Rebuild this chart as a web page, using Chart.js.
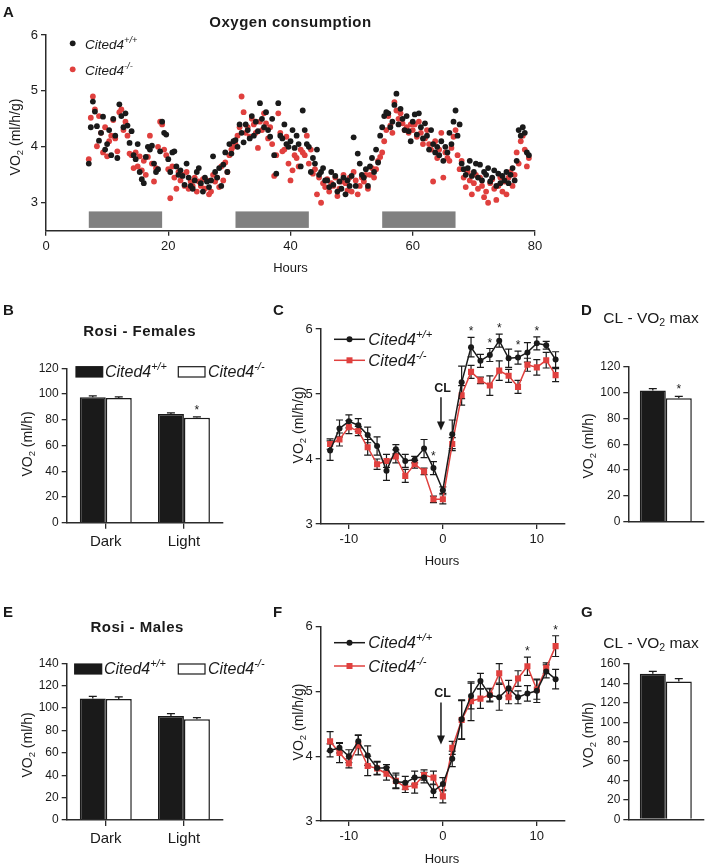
<!DOCTYPE html>
<html>
<head>
<meta charset="utf-8">
<script src="https://cdn.jsdelivr.net/npm/chart.js@4.4.1/dist/chart.umd.min.js"></script>
<style>
  html, body { margin: 0; padding: 0; background: #fff; }
  #wrap { position: relative; width: 709px; height: 868px; overflow: hidden; }
  #wrap canvas { position: absolute; left: 0; top: 0; }
</style>
</head>
<body>
<div id="wrap">
  <canvas id="chart-a" width="709" height="868"></canvas>
  <canvas id="chart-b" width="709" height="868"></canvas>
  <canvas id="chart-c" width="709" height="868"></canvas>
  <canvas id="chart-d" width="709" height="868"></canvas>
  <canvas id="chart-e" width="709" height="868"></canvas>
  <canvas id="chart-f" width="709" height="868"></canvas>
  <canvas id="chart-g" width="709" height="868"></canvas>
</div>
<script>
// ---------------- DATA ----------------

// A - oxygen consumption over time (ml/h/g), three samples per hour
const hoursA = [7,7.33,7.67,8,8.33,8.67,9,9.33,9.67,10,10.33,10.67,11,11.33,11.67,12,12.33,12.67,13,13.33,13.67,14,14.33,14.67,15,15.33,15.67,16,16.33,16.67,17,17.33,17.67,18,18.33,18.67,19,19.33,19.67,20,20.33,20.67,21,21.33,21.67,22,22.33,22.67,23,23.33,23.67,24,24.33,24.67,25,25.33,25.67,26,26.33,26.67,27,27.33,27.67,28,28.33,28.67,29,29.33,29.67,30,30.33,30.67,31,31.33,31.67,32,32.33,32.67,33,33.33,33.67,34,34.33,34.67,35,35.33,35.67,36,36.33,36.67,37,37.33,37.67,38,38.33,38.67,39,39.33,39.67,40,40.33,40.67,41,41.33,41.67,42,42.33,42.67,43,43.33,43.67,44,44.33,44.67,45,45.33,45.67,46,46.33,46.67,47,47.33,47.67,48,48.33,48.67,49,49.33,49.67,50,50.33,50.67,51,51.33,51.67,52,52.33,52.67,53,53.33,53.67,54,54.33,54.67,55,55.33,55.67,56,56.33,56.67,57,57.33,57.67,58,58.33,58.67,59,59.33,59.67,60,60.33,60.67,61,61.33,61.67,62,62.33,62.67,63,63.33,63.67,64,64.33,64.67,65,65.33,65.67,66,66.33,66.67,67,67.33,67.67,68,68.33,68.67,69,69.33,69.67,70,70.33,70.67,71,71.33,71.67,72,72.33,72.67,73,73.33,73.67,74,74.33,74.67,75,75.33,75.67,76,76.33,76.67,77,77.33,77.67,78,78.33,78.67,79]
const wildA = [
  3.70,4.35,4.81, 4.63,4.37,4.11, 4.25,4.54,3.95, 4.05,4.30,3.85, 4.50,4.20,3.80, 4.76,4.55,4.35,
  4.60,4.38,4.07, 4.28,3.85,3.78, 4.05,3.55,3.42, 3.35,3.82,4.00, 3.95,4.02,3.70, 3.55,3.60,3.92,
  4.45,4.25,4.22, 3.78,3.55,3.90, 3.92,3.65,3.50, 3.58,3.48,3.32, 3.70,3.45,3.30, 3.25,3.40,3.55,
  3.62,3.35,3.20, 3.45,3.38,3.28, 3.40,3.83,3.55, 3.45,3.62,3.30, 3.68,3.90,3.55, 4.05,3.88,4.10,
  4.12,4.00,4.40, 4.25,4.08,4.40, 4.30,4.15,4.55, 4.20,4.45,4.28, 4.78,4.50,4.35, 4.62,4.30,4.18,
  4.50,3.85,3.52, 4.78,4.20,4.15, 4.40,4.05,4.00, 4.10,4.30,3.98, 4.20,4.05,3.65, 4.65,4.30,4.05,
  4.00,3.55,3.80, 3.70,3.95,3.50, 3.55,3.62,3.40, 3.40,3.28,3.55, 3.32,3.48,3.20, 3.38,3.25,3.45,
  3.15,3.40,3.30, 3.48,4.17,3.30, 3.88,3.70,3.50, 3.45,3.60,3.30, 3.65,3.80,3.55, 3.95,3.72,4.20,
  4.35,4.55,4.62, 4.60,4.35,4.45, 4.75,4.95,4.40, 4.68,4.50,4.30, 4.55,4.28,4.10, 4.45,4.58,4.22,
  4.60,4.35,4.15, 4.42,4.20,3.95, 4.30,4.05,3.90, 4.00,3.85,4.10, 3.75,4.00,3.90, 4.25,4.05,4.45,
  4.65,4.20,4.40, 3.70,3.60,3.50, 3.62,3.75,3.48, 3.55,3.70,3.45, 3.68,3.40,3.55, 3.50,3.62,3.38,
  3.45,3.58,3.30, 3.52,3.35,3.48, 3.40,3.55,3.35, 3.50,3.62,3.40, 3.75,4.30,4.20, 4.35,4.25,3.90,
  3.85
]
const knockA = [
  3.78,4.52,4.90, 4.67,4.01,4.55, 4.25,3.90,4.35, 3.83,4.10,4.20, 4.48,4.15,3.92, 4.62,4.67,4.30,
  4.45,4.20,3.88, 3.85,3.62,3.90, 3.65,3.83,3.58, 3.75,3.50,3.82, 4.20,3.70,3.38, 3.62,4.00,4.45,
  4.40,3.95,3.85, 3.60,3.08,3.65, 3.45,3.25,3.55, 3.40,3.50,3.30, 3.55,3.25,3.38, 3.30,3.45,3.20,
  3.38,3.30,3.42, 3.25,3.40,3.15, 3.20,3.50,3.38, 3.45,3.28,3.65, 3.40,3.72,3.55, 3.85,3.95,4.00,
  4.05,4.20,4.35, 4.90,4.62,4.25, 4.35,4.18,4.50, 4.40,4.25,3.98, 4.45,4.30,4.60, 4.42,4.15,4.35,
  4.05,3.48,3.85, 4.60,4.25,3.92, 3.95,4.18,3.70, 3.40,3.58,3.85, 3.80,3.65,3.95, 3.90,3.85,4.20,
  3.70,3.95,3.52, 3.60,3.15,3.45, 3.00,3.35,3.28, 3.42,3.20,3.35, 3.30,3.45,3.12, 3.25,3.38,3.50,
  3.35,3.22,3.45, 3.20,3.55,3.40, 3.15,3.30,3.45, 3.38,3.50,3.25, 3.50,3.62,3.45, 3.60,3.75,3.82,
  3.90,4.10,4.30, 4.55,4.38,4.25, 4.80,4.65,4.50, 4.60,4.42,4.30, 4.35,4.25,4.40, 4.30,4.40,4.18,
  4.45,4.25,4.05, 4.15,4.30,4.05, 3.95,3.38,4.10, 3.80,3.95,4.25, 3.45,3.90,3.80, 3.75,3.98,4.18,
  4.30,3.85,3.60, 3.75,3.45,3.28, 3.55,3.40,3.15, 3.35,3.50,3.25, 3.45,3.30,3.10, 3.20,3.00,3.35,
  3.42,3.25,3.05, 3.30,3.45,3.20, 3.38,3.15,3.45, 3.55,3.30,3.50, 3.90,3.70,4.10, 4.20,3.95,3.65,
  3.80
]
const darkStart = [7, 31, 55]
const darkEnd = [19, 43, 67]
const ticksAx = [0, 20, 40, 60, 80]
const ticksAy = [3, 4, 5, 6]

// B - Rosi, females (ml/h)
const phases = ['Dark', 'Light']
const femWild = [97.5, 84.5]
const femWildErr = [1.0, 0.8]
const femKnock = [97.0, 81.5]
const femKnockErr = [0.8, 0.7]
const femStars = [1]            // Light, Cited4-/-
const ticksB = [0, 20, 40, 60, 80, 100, 120]

// C - CL response, females (ml/h/g)
const hoursCL = [-12,-11,-10,-9,-8,-7,-6,-5,-4,-3,-2,-1,0,1,2,3,4,5,6,7,8,9,10,11,12]
const femCLWild = [4.13,4.47,4.58,4.52,4.37,4.20,3.82,4.15,3.97,3.99,4.16,3.86,3.52,4.38,5.18,5.72,5.51,5.60,5.82,5.55,5.56,5.64,5.78,5.75,5.53]
const femCLWildErr = [0.15,0.13,0.10,0.10,0.12,0.14,0.15,0.07,0.10,0.05,0.14,0.10,0.05,0.22,0.25,0.15,0.10,0.10,0.10,0.14,0.10,0.15,0.10,0.06,0.12]
const femCLKnock = [4.23,4.30,4.49,4.43,4.18,3.92,3.97,4.04,3.74,3.92,3.81,3.38,3.38,4.23,4.98,5.34,5.21,5.13,5.36,5.28,5.11,5.45,5.41,5.52,5.29]
const femCLKnockErr = [0.08,0.10,0.10,0.07,0.12,0.08,0.10,0.10,0.10,0.06,0.05,0.05,0.07,0.10,0.15,0.10,0.05,0.15,0.15,0.10,0.10,0.10,0.12,0.12,0.10]
const femCLStars = [-1, 3, 5, 6, 8, 10]
const ticksCLx = [-10, 0, 10]
const ticksCLy = [3, 4, 5, 6]

// D - CL VO2 max, females (ml/h)
const femMaxWild = [101.5]
const femMaxWildErr = [1.5]
const femMaxKnock = [95.5]
const femMaxKnockErr = [1.5]
const ticksD = [0, 20, 40, 60, 80, 100, 120]

// E - Rosi, males (ml/h)
const maleWild = [108.5, 93.0]
const maleWildErr = [2.0, 2.0]
const maleKnock = [108.0, 90.0]
const maleKnockErr = [2.0, 1.5]
const ticksE = [0, 20, 40, 60, 80, 100, 120, 140]

// F - CL response, males (ml/h/g)
const maleCLWild = [4.09,4.13,4.00,4.23,4.01,3.82,3.82,3.61,3.59,3.67,3.67,3.46,3.57,3.96,4.57,4.93,5.16,4.94,4.91,5.05,4.91,4.97,5.01,5.31,5.19]
const maleCLWildErr = [0.10,0.08,0.10,0.10,0.15,0.10,0.05,0.10,0.10,0.10,0.08,0.10,0.10,0.12,0.30,0.20,0.12,0.10,0.20,0.12,0.10,0.12,0.18,0.10,0.15]
const maleCLKnock = [4.23,4.05,3.89,4.17,3.85,3.81,3.73,3.62,3.52,3.55,3.71,3.67,3.38,4.13,4.56,4.85,4.89,4.95,5.28,4.91,5.20,5.39,5.03,5.36,5.70]
const maleCLKnockErr = [0.15,0.15,0.07,0.15,0.15,0.10,0.10,0.12,0.08,0.12,0.08,0.10,0.10,0.10,0.30,0.30,0.15,0.10,0.15,0.10,0.12,0.14,0.15,0.08,0.16]
const maleCLStars = [9, 12]

// G - CL VO2 max, males (ml/h)
const maleMaxWild = [150]
const maleMaxWildErr = [2.5]
const maleMaxKnock = [142]
const maleMaxKnockErr = [3]
const ticksG = [0, 20, 40, 60, 80, 100, 120, 140, 160]

// where the CL injection arrow sits (hours)
const clHour = -0.2

// ---------------- STYLE ----------------
const INK = '#1a1a1a'
const AXIS = '#2b2b2b'
const RED = '#e0403e'
const GRAY = '#808080'
const FONT = '"Liberation Sans", Arial, Helvetica, sans-serif'

const WILD = [['Cited4', 0], ['+/+', 1]]
const KNOCK = [['Cited4', 0], ['-/-', 1]]
const VO2_G = [['VO', 0], ['2', -1], [' (ml/h/g)', 0]]
const VO2_H = [['VO', 0], ['2', -1], [' (ml/h)', 0]]

Chart.defaults.font.family = FONT
Chart.defaults.color = INK
Chart.defaults.animation = false
Chart.defaults.responsive = false
Chart.defaults.devicePixelRatio = 1
Chart.defaults.events = []
Chart.defaults.plugins.legend.display = false
Chart.defaults.plugins.tooltip.enabled = false

// ---------------- HELPERS ----------------

// every canvas covers the whole page, so the plot box is placed by padding
function placeArea(area, yw, xh) {
  return {
    autoPadding: false,
    padding: { left: area[0] - yw, top: area[1], right: 709 - area[2], bottom: 868 - area[3] - xh }
  }
}

function fixWidth(w) {
  return s => { s.width = w; s.paddingTop = 0; s.paddingBottom = 0; s.paddingLeft = 0; s.paddingRight = 0 }
}

function fixHeight(h) {
  return s => { s.height = h; s.paddingTop = 0; s.paddingBottom = 0; s.paddingLeft = 0; s.paddingRight = 0 }
}

function linAxis(min, max, tickVals, size, afterFit) {
  return {
    type: 'linear', min: min, max: max,
    afterBuildTicks: s => { s.ticks = tickVals.map(v => ({ value: v })) },
    afterFit: afterFit,
    ticks: { color: INK, font: { family: FONT, size: size }, padding: 3 },
    grid: { drawOnChartArea: false, tickLength: 5, color: AXIS, lineWidth: 1.3 },
    border: { color: AXIS, width: 1.5 }
  }
}

function fontStr(size, style) {
  return (style || '') + ' ' + size + 'px ' + FONT
}

// text with super (1) / sub (-1) scripts
function drawRich(ctx, parts, x, y, size, style, align) {
  const sizes = parts.map(p => p[1] ? size * 0.68 : size)
  const widths = parts.map((p, i) => { ctx.font = fontStr(sizes[i], style); return ctx.measureText(p[0]).width })
  const total = widths.reduce((a, b) => a + b, 0)
  let cx = align === 'center' ? x - total / 2 : x
  ctx.textAlign = 'left'
  ctx.textBaseline = 'alphabetic'
  parts.forEach((p, i) => {
    ctx.font = fontStr(sizes[i], style)
    const dy = p[1] === 1 ? -size * 0.42 : p[1] === -1 ? size * 0.22 : 0
    ctx.fillText(p[0], cx, y + dy)
    cx += widths[i]
  })
}

function plainText(ctx, text, x, y, size, style, align, spacing) {
  ctx.save()
  ctx.fillStyle = INK
  ctx.font = fontStr(size, style)
  ctx.textAlign = align || 'left'
  ctx.textBaseline = 'alphabetic'
  if (spacing) ctx.letterSpacing = spacing + 'px'
  ctx.fillText(text, x, y)
  ctx.restore()
}

function yLabel(ctx, parts, cx, cy, size) {
  ctx.save()
  ctx.fillStyle = INK
  ctx.translate(cx, cy)
  ctx.rotate(-Math.PI / 2)
  drawRich(ctx, parts, 0, size * 0.36, size, '', 'center')
  ctx.restore()
}

function panelLetter(ctx, letter, x, y) {
  plainText(ctx, letter, x, y, 15, 'bold')
}

function barLegend(ctx, x, y, w, h, filled, tx, ty, parts, size) {
  ctx.save()
  ctx.fillStyle = filled ? INK : '#fff'
  ctx.fillRect(x, y, w, h)
  ctx.strokeStyle = INK
  ctx.lineWidth = 1.2
  ctx.strokeRect(x, y, w, h)
  ctx.fillStyle = INK
  drawRich(ctx, parts, tx, ty, size, 'italic')
  ctx.restore()
}

function lineLegend(ctx, x0, x1, y, color, square, tx, ty, parts, size) {
  ctx.save()
  ctx.strokeStyle = color
  ctx.fillStyle = color
  ctx.lineWidth = 1.5
  ctx.beginPath()
  ctx.moveTo(x0, y)
  ctx.lineTo(x1, y)
  ctx.stroke()
  const mx = (x0 + x1) / 2
  if (square) ctx.fillRect(mx - 3, y - 3, 6, 6)
  else { ctx.beginPath(); ctx.arc(mx, y, 3, 0, Math.PI * 2); ctx.fill() }
  ctx.fillStyle = INK
  drawRich(ctx, parts, tx, ty, size, 'italic')
  ctx.restore()
}

function dotLegend(ctx, x, y, color, tx, ty, parts, size) {
  ctx.save()
  ctx.fillStyle = color
  ctx.beginPath()
  ctx.arc(x, y, 2.9, 0, Math.PI * 2)
  ctx.fill()
  ctx.fillStyle = INK
  drawRich(ctx, parts, tx, ty, size, 'italic')
  ctx.restore()
}

function star(ctx, x, y) {
  plainText(ctx, '*', x, y, 12, '', 'center')
}

// upper error bars on top of bars
function barErrors(chart, errs, stars) {
  const ctx = chart.ctx
  const y = chart.scales.y
  ctx.save()
  ctx.strokeStyle = INK
  ctx.lineWidth = 1.3
  chart.data.datasets.forEach((ds, d) => {
    const meta = chart.getDatasetMeta(d)
    meta.data.forEach((bar, i) => {
      const top = y.getPixelForValue(ds.data[i] + errs[d][i])
      ctx.beginPath()
      ctx.moveTo(bar.x, bar.y)
      ctx.lineTo(bar.x, top)
      ctx.moveTo(bar.x - 4, top)
      ctx.lineTo(bar.x + 4, top)
      ctx.stroke()
      if (stars && stars[d] && stars[d].indexOf(i) >= 0) star(ctx, bar.x, top - 3)
    })
  })
  ctx.restore()
}

// symmetric SEM bars for the time courses
function lineErrors(chart, errs) {
  const ctx = chart.ctx
  const y = chart.scales.y
  ctx.save()
  ctx.strokeStyle = INK
  ctx.lineWidth = 1.2
  chart.data.datasets.forEach((ds, d) => {
    const meta = chart.getDatasetMeta(d)
    meta.data.forEach((pt, i) => {
      const v = ds.data[i].y
      const top = y.getPixelForValue(v + errs[d][i])
      const bot = y.getPixelForValue(v - errs[d][i])
      ctx.beginPath()
      ctx.moveTo(pt.x, top)
      ctx.lineTo(pt.x, bot)
      ctx.moveTo(pt.x - 3.5, top)
      ctx.lineTo(pt.x + 3.5, top)
      ctx.moveTo(pt.x - 3.5, bot)
      ctx.lineTo(pt.x + 3.5, bot)
      ctx.stroke()
    })
  })
  ctx.restore()
}

function lineStars(chart, d, hours, errs) {
  const meta = chart.getDatasetMeta(d)
  const ds = chart.data.datasets[d]
  hours.forEach(h => {
    const i = hoursCL.indexOf(h)
    const top = chart.scales.y.getPixelForValue(ds.data[i].y + errs[i])
    star(chart.ctx, meta.data[i].x, top - 2)
  })
}

function clArrow(chart, labelVal, fromVal, toVal) {
  const ctx = chart.ctx
  const x = chart.scales.x.getPixelForValue(clHour)
  const y = chart.scales.y
  plainText(ctx, 'CL', x + 1.5, y.getPixelForValue(labelVal), 12.5, 'bold', 'center')
  const y0 = y.getPixelForValue(fromVal)
  const y1 = y.getPixelForValue(toVal)
  ctx.save()
  ctx.strokeStyle = INK
  ctx.fillStyle = INK
  ctx.lineWidth = 1.5
  ctx.beginPath()
  ctx.moveTo(x, y0)
  ctx.lineTo(x, y1 - 8)
  ctx.stroke()
  ctx.beginPath()
  ctx.moveTo(x - 4, y1 - 9)
  ctx.lineTo(x + 4, y1 - 9)
  ctx.lineTo(x, y1)
  ctx.closePath()
  ctx.fill()
  ctx.restore()
}

function lineSet(hours, vals, color, square) {
  return {
    data: hours.map((h, i) => ({ x: h, y: vals[i] })),
    borderColor: color,
    backgroundColor: color,
    borderWidth: 1.5,
    pointStyle: square ? 'rect' : 'circle',
    pointRadius: square ? 4.3 : 3,
    pointBorderWidth: 0,
    pointBackgroundColor: color,
    tension: 0
  }
}

function barSet(vals, filled) {
  return {
    data: vals,
    backgroundColor: filled ? INK : '#fff',
    borderColor: INK,
    borderWidth: 1.5
  }
}

function barOptions(area, yMax, yTicks, tickSize, catPct, showX) {
  return {
    layout: placeArea(area, 40, 30),
    datasets: { bar: { categoryPercentage: catPct, barPercentage: 1 } },
    scales: {
      x: {
        type: 'category',
        afterFit: fixHeight(30),
        ticks: { display: showX, color: INK, font: { family: FONT, size: 15 }, padding: 4 },
        grid: { display: showX, offset: false, drawOnChartArea: false, tickLength: 6, color: AXIS, lineWidth: 1.3 },
        border: { display: true, color: AXIS, width: 1.5 }
      },
      y: linAxis(0, yMax, yTicks, tickSize, fixWidth(40))
    }
  }
}

// ---------------- A: time course scatter ----------------
new Chart(document.getElementById('chart-a'), {
  type: 'scatter',
  data: {
    datasets: [
      { data: hoursA.map((h, i) => ({ x: h, y: wildA[i] })), backgroundColor: INK, pointRadius: 2.9, pointBorderWidth: 0 },
      { data: hoursA.map((h, i) => ({ x: h, y: knockA[i] })), backgroundColor: RED, pointRadius: 2.9, pointBorderWidth: 0 }
    ]
  },
  options: {
    layout: placeArea([46, 35, 535, 230.7], 40, 30),
    scales: {
      x: linAxis(0, 80, ticksAx, 13, fixHeight(30)),
      y: linAxis(2.5, 6, ticksAy, 13, fixWidth(40))
    }
  },
  plugins: [{
    id: 'decorA',
    beforeDatasetsDraw(chart) {
      const ctx = chart.ctx, x = chart.scales.x, y = chart.scales.y
      ctx.save()
      ctx.fillStyle = GRAY
      darkStart.forEach((s, i) => {
        const x0 = x.getPixelForValue(s), x1 = x.getPixelForValue(darkEnd[i])
        const y0 = y.getPixelForValue(2.845), y1 = y.getPixelForValue(2.55)
        ctx.fillRect(x0, y0, x1 - x0, y1 - y0)
      })
      ctx.restore()
    },
    afterDraw(chart) {
      const ctx = chart.ctx
      panelLetter(ctx, 'A', 3, 17)
      plainText(ctx, 'Oxygen consumption', 290.5, 26.5, 15, 'bold', 'center', 0.5)
      yLabel(ctx, VO2_G, 15, 137, 14)
      plainText(ctx, 'Hours', 290.5, 271.5, 13, '', 'center')
      dotLegend(ctx, 72.7, 43.3, INK, 85, 49, WILD, 13.5)
      dotLegend(ctx, 72.7, 69.3, RED, 85, 75, KNOCK, 13.5)
    }
  }]
})

// ---------------- B: Rosi females ----------------
new Chart(document.getElementById('chart-b'), {
  type: 'bar',
  data: { labels: phases, datasets: [barSet(femWild, true), barSet(femKnock, false)] },
  options: barOptions([66.7, 368.3, 223, 522.7], 120, ticksB, 12, 0.665, true),
  plugins: [{
    id: 'decorB',
    afterDatasetsDraw(chart) { barErrors(chart, [femWildErr, femKnockErr], [[], femStars]) },
    afterDraw(chart) {
      const ctx = chart.ctx
      panelLetter(ctx, 'B', 3, 315)
      plainText(ctx, 'Rosi - Females', 139.7, 335.7, 15, 'bold', 'center', 0.5)
      yLabel(ctx, VO2_H, 27, 444, 14)
      barLegend(ctx, 76, 366.7, 26.7, 10.3, true, 105, 376.5, WILD, 16)
      barLegend(ctx, 178.3, 366.7, 26.7, 10.3, false, 208, 376.5, KNOCK, 16)
    }
  }]
})

// ---------------- C: CL females ----------------
new Chart(document.getElementById('chart-c'), {
  type: 'line',
  data: { datasets: [lineSet(hoursCL, femCLWild, INK, false), lineSet(hoursCL, femCLKnock, RED, true)] },
  options: {
    layout: placeArea([320.7, 329, 565, 524], 40, 30),
    scales: {
      x: linAxis(-13, 13, ticksCLx, 13, fixHeight(30)),
      y: linAxis(3, 6, ticksCLy, 13, fixWidth(40))
    }
  },
  plugins: [{
    id: 'decorC',
    beforeDatasetsDraw(chart) { lineErrors(chart, [femCLWildErr, femCLKnockErr]) },
    afterDraw(chart) {
      const ctx = chart.ctx
      panelLetter(ctx, 'C', 273, 315)
      yLabel(ctx, VO2_G, 298, 425, 14)
      plainText(ctx, 'Hours', 442, 565, 13, '', 'center')
      lineLegend(ctx, 334, 365, 339.3, INK, false, 368.3, 345, WILD, 16.5)
      lineLegend(ctx, 334, 365, 360.3, RED, true, 368.3, 366, KNOCK, 16.5)
      lineStars(chart, 0, femCLStars, femCLWildErr)
      clArrow(chart, 5.03, 4.95, 4.44)
    }
  }]
})

// ---------------- D: CL VO2 max females ----------------
new Chart(document.getElementById('chart-d'), {
  type: 'bar',
  data: { labels: [''], datasets: [barSet(femMaxWild, true), barSet(femMaxKnock, false)] },
  options: barOptions([628.3, 366.7, 703.3, 521.7], 120, ticksD, 12, 0.693, false),
  plugins: [{
    id: 'decorD',
    afterDatasetsDraw(chart) { barErrors(chart, [femMaxWildErr, femMaxKnockErr], [[], [0]]) },
    afterDraw(chart) {
      const ctx = chart.ctx
      panelLetter(ctx, 'D', 581, 315)
      ctx.fillStyle = INK
      drawRich(ctx, [['CL - VO', 0], ['2', -1], [' max', 0]], 603.3, 323, 15.5, '')
      yLabel(ctx, VO2_H, 588, 446, 14)
    }
  }]
})

// ---------------- E: Rosi males ----------------
new Chart(document.getElementById('chart-e'), {
  type: 'bar',
  data: { labels: phases, datasets: [barSet(maleWild, true), barSet(maleKnock, false)] },
  options: barOptions([66.7, 663.3, 223, 820], 140, ticksE, 12, 0.665, true),
  plugins: [{
    id: 'decorE',
    afterDatasetsDraw(chart) { barErrors(chart, [maleWildErr, maleKnockErr]) },
    afterDraw(chart) {
      const ctx = chart.ctx
      panelLetter(ctx, 'E', 3, 617)
      plainText(ctx, 'Rosi - Males', 137.2, 632.3, 15, 'bold', 'center', 0.5)
      yLabel(ctx, VO2_H, 27, 745, 14)
      barLegend(ctx, 74.7, 664, 27, 10, true, 104, 674, WILD, 16)
      barLegend(ctx, 178.3, 664, 26.7, 10, false, 208, 674, KNOCK, 16)
    }
  }]
})

// ---------------- F: CL males ----------------
new Chart(document.getElementById('chart-f'), {
  type: 'line',
  data: { datasets: [lineSet(hoursCL, maleCLWild, INK, false), lineSet(hoursCL, maleCLKnock, RED, true)] },
  options: {
    layout: placeArea([320.7, 626.7, 565, 821], 40, 30),
    scales: {
      x: linAxis(-13, 13, ticksCLx, 13, fixHeight(30)),
      y: linAxis(3, 6, ticksCLy, 13, fixWidth(40))
    }
  },
  plugins: [{
    id: 'decorF',
    beforeDatasetsDraw(chart) { lineErrors(chart, [maleCLWildErr, maleCLKnockErr]) },
    afterDraw(chart) {
      const ctx = chart.ctx
      panelLetter(ctx, 'F', 273, 617)
      yLabel(ctx, VO2_G, 298, 722, 14)
      plainText(ctx, 'Hours', 442, 863, 13, '', 'center')
      lineLegend(ctx, 334, 365, 642.7, INK, false, 368.3, 648.3, WILD, 16.5)
      lineLegend(ctx, 334, 365, 666, RED, true, 368.3, 671.7, KNOCK, 16.5)
      lineStars(chart, 1, maleCLStars, maleCLKnockErr)
      clArrow(chart, 4.91, 4.83, 4.18)
    }
  }]
})

// ---------------- G: CL VO2 max males ----------------
new Chart(document.getElementById('chart-g'), {
  type: 'bar',
  data: { labels: [''], datasets: [barSet(maleMaxWild, true), barSet(maleMaxKnock, false)] },
  options: barOptions([628.3, 664, 703.3, 819.3], 160, ticksG, 12, 0.693, false),
  plugins: [{
    id: 'decorG',
    afterDatasetsDraw(chart) { barErrors(chart, [maleMaxWildErr, maleMaxKnockErr]) },
    afterDraw(chart) {
      const ctx = chart.ctx
      panelLetter(ctx, 'G', 581, 617)
      ctx.fillStyle = INK
      drawRich(ctx, [['CL - VO', 0], ['2', -1], [' max', 0]], 603.3, 647.5, 15.5, '')
      yLabel(ctx, VO2_H, 588, 735, 14)
    }
  }]
})
</script>
</body>
</html>
